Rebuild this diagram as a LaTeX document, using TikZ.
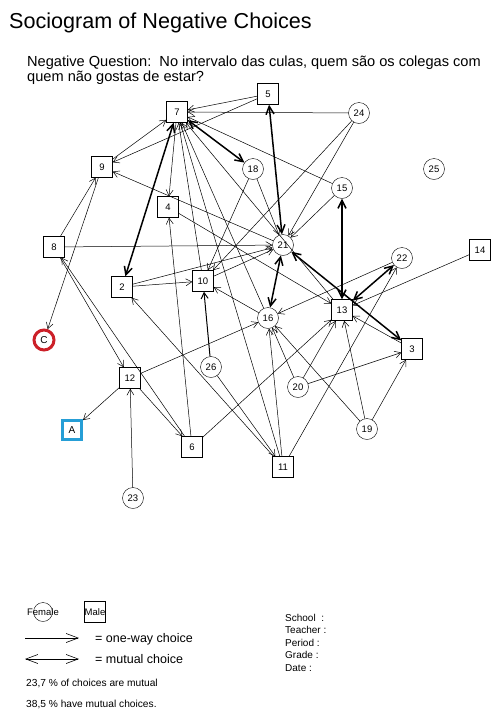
\documentclass[tikz,border=0pt]{standalone}
\usepackage{fontspec}
\setmainfont{Liberation Sans}
\usetikzlibrary{arrows.meta}
\definecolor{markred}{RGB}{204,32,40}
\definecolor{markblue}{RGB}{38,158,214}
\tikzset{
  male/.style={draw, rectangle, minimum size=21pt, inner sep=0pt, font=\fontsize{9.5}{10}\selectfont},
  female/.style={draw, circle, minimum size=21pt, inner sep=0pt, font=\fontsize{9.5}{10}\selectfont},
  oneway/.style={-{Straight Barb[length=6pt,width=7pt]}, line width=0.5pt},
  mutual/.style={{Straight Barb[length=8pt,width=8pt]}-{Straight Barb[length=8pt,width=8pt]}, line width=1.5pt},
  keyarrow/.style={line width=0.6pt},
  note/.style={anchor=base west, inner sep=0pt},
}
\begin{document}
\begin{tikzpicture}[x=1pt, y=-1pt]
    \useasboundingbox (0,0) rectangle (492,713);
    % heading
    \node[note, font=\fontsize{21.6}{24}\selectfont] (title) at (9,28) {Sociogram of Negative Choices};
    \node[note, font=\fontsize{14.6}{16}\selectfont] (q1) at (27,66) {Negative Question:\ \ No intervalo das culas, quem são os colegas com};
    \node[note, font=\fontsize{14.6}{16}\selectfont] (q2) at (27,81) {quem não gostas de estar?};
    % pupils
    \node[male] (p7) at (177,112) {7};
    \node[male] (p5) at (268,94) {5};
    \node[female] (p24) at (359,113) {24};
    \node[male] (p9) at (102,167) {9};
    \node[female] (p18) at (253,169) {18};
    \node[female] (p15) at (342,188) {15};
    \node[female] (p25) at (434,169) {25};
    \node[male] (p4) at (168,207) {4};
    \node[male] (p8) at (54,247) {8};
    \node[female] (p21) at (283,245) {21};
    \node[male] (p14) at (480,250) {14};
    \node[female] (p22) at (402,258) {22};
    \node[male] (p2) at (122,287) {2};
    \node[male] (p10) at (203,281) {10};
    \node[male] (p13) at (342,310) {13};
    \node[female] (p16) at (268,318) {16};
    \node[female, draw=markred, line width=3pt, minimum size=20pt, font=\fontsize{10}{11}\selectfont] (pc) at (44,340) {C};
    \node[male] (p3) at (412,349) {3};
    \node[male] (p12) at (130,378) {12};
    \node[female] (p26) at (211,367) {26};
    \node[female] (p20) at (298,387) {20};
    \node[male, draw=markblue, line width=3pt, minimum size=19pt, font=\fontsize{10}{11}\selectfont] (pa) at (72,430) {A};
    \node[female] (p19) at (367,429) {19};
    \node[male] (p6) at (192,447) {6};
    \node[male] (p11) at (283,467) {11};
    \node[female] (p23) at (133,498) {23};
    % mutual choices
    \draw[mutual] (p7) -- (p18); \draw[mutual] (p7) -- (p2);
    \draw[mutual] (p5) -- (p21); \draw[mutual] (p21) -- (p16);
    \draw[mutual] (p21) -- (p3); \draw[mutual] (p13) -- (p22);
    \draw[mutual] (p15) -- (p13);
    % one-way choices
    \draw[oneway] (p5) -- (p7); \draw[oneway] (p5) -- (p9);
    \draw[oneway] (p24) -- (p7); \draw[oneway] (p24) -- (p21); \draw[oneway] (p24) -- (p10);
    \draw[oneway] (p9) -- (p7); \draw[oneway] (p9) -- (pc);
    \draw[oneway] (p8) -- (p9); \draw[oneway] (p8) -- (p21); \draw[oneway] (p8) -- (p12);
    \draw[oneway] (p6) -- (p8); \draw[oneway] (p12) -- (p6);
    \draw[oneway] (p2) -- (p10); \draw[oneway] (p2) -- (p21); \draw[oneway] (p11) -- (p2);
    \draw[oneway] (p18) -- (p10); \draw[oneway] (p18) -- (p21);
    \draw[oneway] (p15) -- (p21); \draw[oneway] (p15) -- (p7);
    \draw[oneway] (p7) -- (p4); \draw[oneway] (p6) -- (p4); \draw[oneway] (p4) -- (p13);
    \draw[oneway] (p21) -- (p9); \draw[oneway] (p10) -- (p21);
    \draw[oneway] (p16) -- (p10); \draw[oneway, line width=1pt] (p26) -- (p10); \draw[oneway] (p26) -- (p11);
    \draw[oneway] (p22) -- (p16); \draw[oneway] (p12) -- (p16); \draw[oneway] (p11) -- (p16);
    \draw[oneway] (p20) -- (p16); \draw[oneway] (p19) -- (p16);
    \draw[oneway] (p14) -- (p13); \draw[oneway] (p3) -- (p13); \draw[oneway] (p20) -- (p13);
    \draw[oneway] (p19) -- (p13); \draw[oneway] (p6) -- (p13); \draw[oneway] (p11) -- (p22);
    \draw[oneway] (p20) -- (p3); \draw[oneway] (p19) -- (p3);
    \draw[oneway] (p23) -- (p12); \draw[oneway] (p12) -- (pa);
    \draw[oneway] (p10) -- (p7); \draw[oneway] (p11) -- (p7);
    \draw[oneway] (p16) -- (p7); \draw[oneway] (p13) -- (p7);
    % key
    \node[female, minimum size=19pt] (keyf) at (43,612) {};
    \node[font=\fontsize{9.5}{10}\selectfont, inner sep=0pt] at (keyf) {Female};
    \node[male] (keym) at (95,612) {};
    \node[font=\fontsize{9.5}{10}\selectfont, inner sep=0pt] at (keym) {Male};
    \coordinate (k1a) at (25,638); \coordinate (k1b) at (79,638);
    \coordinate (k2a) at (25,659); \coordinate (k2b) at (79,659);
    \draw[keyarrow, -{Straight Barb[length=12pt,width=9pt]}] (k1a) -- (k1b);
    \draw[keyarrow, {Straight Barb[length=12pt,width=9pt]}-{Straight Barb[length=12pt,width=9pt]}] (k2a) -- (k2b);
    \node[note, font=\fontsize{12.5}{14}\selectfont] (k1t) at (95,642) {= one-way choice};
    \node[note, font=\fontsize{12.5}{14}\selectfont] (k2t) at (95,663) {= mutual choice};
    \node[note, font=\fontsize{10.2}{11}\selectfont] (s1) at (26,686) {23,7 \% of choices are mutual};
    \node[note, font=\fontsize{10.2}{11}\selectfont] (s2) at (26,707) {38,5 \% have mutual choices.};
    \node[note, font=\fontsize{10}{11}\selectfont] (i1) at (285,621) {School\ \ :};
    \node[note, font=\fontsize{10}{11}\selectfont] (i2) at (285,633) {Teacher :};
    \node[note, font=\fontsize{10}{11}\selectfont] (i3) at (285,646) {Period :};
    \node[note, font=\fontsize{10}{11}\selectfont] (i4) at (285,658) {Grade :};
    \node[note, font=\fontsize{10}{11}\selectfont] (i5) at (285,671) {Date :};
  \end{tikzpicture}
\end{document}
